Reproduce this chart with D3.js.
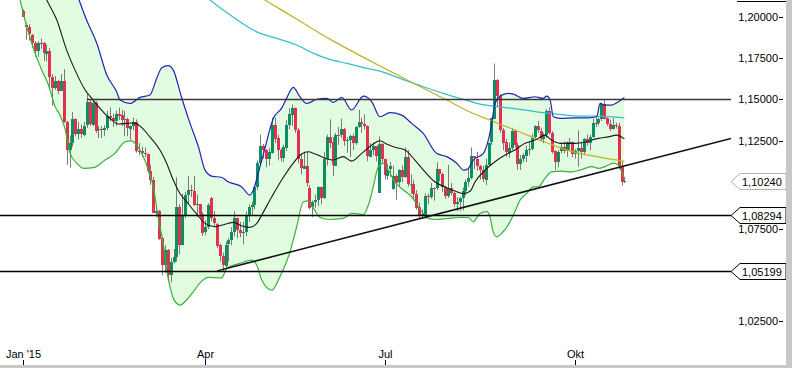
<!DOCTYPE html>
<html><head><meta charset="utf-8">
<script src="https://cdn.jsdelivr.net/npm/d3@7"></script>
<style>html,body{margin:0;padding:0;background:#fff;overflow:hidden}svg{display:block;font-family:"Liberation Sans",Arial,sans-serif}</style>
</head><body>
<svg id="chart" width="792" height="368"></svg>
<script>
// ---------- DATA (EUR/USD daily, Jan 2 – Oct 26 2015, 209 bars) ----------
const open = [
1.2040,1.1950,1.1935,1.1890,1.1840,1.1793,1.1842,1.1837,1.1774,1.1790,1.1630,1.1566,1.1607,1.1549,1.1608,1.1366,1.1202,1.1240,1.1380,1.1290,1.1321,
1.1290,1.1343,1.1480,1.1347,1.1478,1.1315,1.1323,1.1317,1.1331,1.1400,1.1390,1.1370,1.1412,1.1403,1.1375,1.1380,1.1328,1.1343,1.1364,1.1195,
1.1196,1.1184,1.1177,1.1077,1.1028,1.0843,1.0852,1.0698,1.0548,1.0632,1.0494,1.0567,1.0596,1.0873,1.0662,1.0827,1.0940,1.0971,1.0965,1.0887,1.0889,1.0835,
1.0731,1.0760,1.0925,1.0810,1.0780,1.0660,1.0600,1.0548,1.0664,1.0688,1.0734,1.0810,1.0743,1.0725,1.0733,1.0823,1.0873,1.0883,1.0985,1.1124,
1.1224,1.1198,1.1146,1.1186,1.1349,1.1269,1.1199,1.1154,1.1215,1.1347,1.1409,1.1448,1.1318,1.1147,1.1094,1.1109,1.0984,1.0873,1.0900,1.0911,
1.0987,1.0924,1.1150,1.1277,1.1244,1.1112,1.1290,1.1285,1.1322,1.1253,1.1261,1.1283,1.1243,1.1336,1.1364,1.1350,1.1339,1.1162,1.1200,1.1222,1.0955,1.1235,
1.1146,1.1055,1.1087,1.0980,1.1053,1.1015,1.1083,1.1042,1.1159,1.1005,1.1005,1.0950,1.0873,1.0827,1.0832,1.0937,1.0931,1.0983,1.0981,1.1088,1.1059,1.0985,1.0935,
1.0981,1.0955,1.0890,1.0903,1.0925,1.0966,1.1015,1.1039,1.1163,1.1149,1.1106,1.1082,1.1028,1.1115,1.1242,1.1385,1.1617,1.1521,1.1319,1.1245,1.1185,
1.1213,1.1313,1.1231,1.1120,1.1148,1.1169,1.1202,1.1208,1.1273,1.1339,1.1314,1.1265,1.1289,1.1432,1.1301,1.1193,1.1130,1.1190,1.1216,1.1195,1.1245,1.1245,
1.1176,1.1193,1.1213,1.1191,1.1266,1.1240,1.1277,1.1358,1.1357,1.1381,1.1472,1.1385,1.1350,1.1322,1.1346,1.1342,1.1108,1.1016];
const high = [
1.2048,1.1965,1.1955,1.1895,1.1850,1.1850,1.1868,1.1845,1.1830,1.1810,1.1650,1.1640,1.1615,1.1650,1.1680,1.1370,1.1285,1.1423,1.1386,1.1365,1.1350,
1.1365,1.1534,1.1495,1.1490,1.1488,1.1340,1.1340,1.1345,1.1430,1.1450,1.1415,1.1430,1.1450,1.1435,1.1430,1.1390,1.1345,1.1390,1.1380,1.1240,
1.1220,1.1215,1.1180,1.1115,1.1045,1.0880,1.0858,1.0705,1.0660,1.0640,1.0590,1.0640,1.1043,1.0890,1.0950,1.0960,1.1050,1.1000,1.1051,1.0945,1.0890,1.0845,
1.0800,1.0895,1.0930,1.0850,1.0785,1.0670,1.0620,1.0680,1.0700,1.0760,1.0850,1.0815,1.0790,1.0790,1.0850,1.0890,1.0905,1.0995,1.1140,1.1290,
1.1235,1.1205,1.1210,1.1390,1.1390,1.1290,1.1210,1.1230,1.1375,1.1445,1.1467,1.1450,1.1330,1.1175,1.1190,1.1190,1.1000,1.0910,1.0945,1.0990,
1.0990,1.1190,1.1290,1.1380,1.1275,1.1300,1.1335,1.1385,1.1330,1.1275,1.1290,1.1295,1.1340,1.1436,1.1390,1.1410,1.1345,1.1240,1.1245,1.1225,1.1280,1.1240,
1.1150,1.1120,1.1130,1.1110,1.1060,1.1090,1.1110,1.1215,1.1200,1.1060,1.1030,1.0970,1.0900,1.0860,1.0950,1.0950,1.1010,1.0985,1.1130,1.1090,1.1070,1.0995,1.1115,
1.1010,1.0960,1.0930,1.0930,1.0985,1.1030,1.1090,1.1215,1.1165,1.1190,1.1115,1.1110,1.1150,1.1245,1.1390,1.1714,1.1620,1.1530,1.1330,1.1265,1.1245,
1.1330,1.1320,1.1245,1.1170,1.1180,1.1225,1.1250,1.1295,1.1345,1.1370,1.1330,1.1300,1.1440,1.1450,1.1310,1.1200,1.1200,1.1245,1.1250,1.1250,1.1270,1.1250,
1.1205,1.1315,1.1250,1.1270,1.1290,1.1290,1.1385,1.1390,1.1390,1.1475,1.1495,1.1390,1.1380,1.1390,1.1360,1.1360,1.1130,1.1040];
const low = [
1.2000,1.1860,1.1855,1.1810,1.1755,1.1755,1.1805,1.1730,1.1727,1.1567,1.1460,1.1555,1.1530,1.1550,1.1360,1.1115,1.1098,1.1220,1.1280,1.1262,1.1270,
1.1280,1.1330,1.1340,1.1340,1.1300,1.1270,1.1270,1.1280,1.1315,1.1370,1.1335,1.1340,1.1375,1.1340,1.1280,1.1280,1.1260,1.1315,1.1185,1.1170,
1.1160,1.1160,1.1065,1.1000,1.0840,1.0820,1.0690,1.0495,1.0510,1.0463,1.0457,1.0560,1.0570,1.0610,1.0660,1.0810,1.0890,1.0930,1.0880,1.0820,1.0810,1.0712,
1.0715,1.0750,1.0795,1.0760,1.0645,1.0570,1.0520,1.0530,1.0570,1.0660,1.0710,1.0700,1.0705,1.0665,1.0710,1.0790,1.0830,1.0860,1.0970,1.1120,
1.1150,1.1100,1.1110,1.1180,1.1240,1.1140,1.1135,1.1130,1.1195,1.1320,1.1340,1.1300,1.1125,1.1060,1.1090,1.0990,1.0860,1.0818,1.0870,1.0880,
1.0890,1.0920,1.1110,1.1210,1.1050,1.1110,1.1230,1.1270,1.1225,1.1185,1.1160,1.1200,1.1230,1.1330,1.1300,1.1320,1.1135,1.1160,1.1170,1.1135,1.0955,1.1130,
1.1030,1.1030,1.1045,1.0970,1.0915,1.0990,1.1015,1.1040,1.0990,1.0950,1.0915,1.0860,1.0810,1.0810,1.0808,1.0890,1.0920,1.0910,1.0970,1.1020,1.0960,1.0920,1.0925,
1.0940,1.0875,1.0850,1.0850,1.0855,1.0940,1.0990,1.1030,1.1090,1.1080,1.1030,1.1015,1.0998,1.1110,1.1230,1.1380,1.1460,1.1300,1.1200,1.1160,1.1155,
1.1200,1.1215,1.1085,1.1085,1.1130,1.1130,1.1170,1.1200,1.1260,1.1300,1.1250,1.1240,1.1270,1.1290,1.1180,1.1085,1.1100,1.1180,1.1180,1.1160,1.1200,1.1160,
1.1150,1.1105,1.1150,1.1170,1.1225,1.1200,1.1270,1.1335,1.1345,1.1370,1.1380,1.1340,1.1310,1.1320,1.1325,1.1090,1.0995,1.1010];
const close = [
1.2002,1.1935,1.1890,1.1840,1.1793,1.1842,1.1837,1.1774,1.1790,1.1630,1.1566,1.1607,1.1549,1.1608,1.1366,1.1202,1.1240,1.1380,1.1290,1.1321,1.1290,
1.1343,1.1480,1.1347,1.1478,1.1315,1.1323,1.1317,1.1331,1.1400,1.1390,1.1370,1.1412,1.1403,1.1375,1.1380,1.1328,1.1343,1.1364,1.1195,1.1196,
1.1184,1.1177,1.1077,1.1028,1.0843,1.0852,1.0698,1.0548,1.0632,1.0494,1.0567,1.0596,1.0873,1.0662,1.0827,1.0940,1.0971,1.0965,1.0887,1.0889,1.0835,1.0731,
1.0760,1.0885,1.0810,1.0780,1.0660,1.0600,1.0548,1.0664,1.0688,1.0734,1.0810,1.0743,1.0725,1.0733,1.0823,1.0873,1.0883,1.0985,1.1124,1.1224,
1.1198,1.1146,1.1186,1.1349,1.1269,1.1199,1.1154,1.1215,1.1347,1.1409,1.1448,1.1318,1.1147,1.1094,1.1109,1.1013,1.0873,1.0900,1.0911,1.0987,
1.0924,1.1150,1.1277,1.1244,1.1112,1.1290,1.1285,1.1322,1.1253,1.1261,1.1283,1.1243,1.1336,1.1364,1.1350,1.1339,1.1162,1.1200,1.1222,1.1165,1.1235,1.1146,
1.1055,1.1087,1.1107,1.1053,1.1015,1.1083,1.1042,1.1159,1.1005,1.1005,1.0950,1.0873,1.0827,1.0832,1.0937,1.0931,1.0983,1.0981,1.1088,1.1059,1.0985,1.0935,1.0981,
1.0955,1.0890,1.0903,1.0925,1.0966,1.1015,1.1039,1.1163,1.1149,1.1106,1.1082,1.1028,1.1115,1.1242,1.1385,1.1617,1.1521,1.1319,1.1245,1.1185,1.1213,
1.1313,1.1231,1.1120,1.1148,1.1169,1.1202,1.1208,1.1273,1.1339,1.1314,1.1265,1.1289,1.1432,1.1301,1.1193,1.1130,1.1190,1.1216,1.1195,1.1245,1.1245,1.1176,
1.1193,1.1213,1.1191,1.1266,1.1240,1.1277,1.1358,1.1357,1.1381,1.1472,1.1385,1.1350,1.1322,1.1346,1.1342,1.1108,1.1016,1.1024];

// Bollinger upper band (bar index, price)
const upperIdx = [-8,6,16.2,19.3,21.9,25.4,28.9,32.3,33.5,36.9,40.4,43.8,46.2,47.9,50.2,51.9,54.8,57.7,60.6,62.9,65.2,68.7,70.9,75.6,78.4,79.6,81.3,83.6,86.5,89.4,91.1,93.4,95.7,98.1,101.5,105,107.3,110.2,113.6,117.7,120.6,123.4,126.9,130.9,134.4,138.4,143,146.5,150,152.3,154,155.7,159.2,160.9,162.1,163.2,165,167.8,169.6,173,177.1,179.9,181.1,182.3,183.4,185.7,190.9,195.5,198.4,199.6,201.3,203.6,205.9,208];
const upperVal = [1.3153,1.2750,1.2264,1.2106,1.1981,1.1839,1.1644,1.1544,1.1494,1.1474,1.1510,1.1524,1.1626,1.1689,1.1701,1.1674,1.1508,1.1356,1.1219,1.1084,1.1050,1.1042,1.1017,1.0988,1.0941,1.0970,1.1066,1.1210,1.1385,1.1446,1.1504,1.1570,1.1514,1.1474,1.1498,1.1504,1.1480,1.1510,1.1435,1.1518,1.1484,1.1395,1.1419,1.1405,1.1356,1.1297,1.1181,1.1162,1.1124,1.1084,1.1094,1.1142,1.1181,1.1258,1.1356,1.1474,1.1518,1.1534,1.1530,1.1504,1.1514,1.1504,1.1518,1.1494,1.1395,1.1386,1.1389,1.1389,1.1395,1.1474,1.1464,1.1464,1.1484,1.1510];
// Bollinger lower band
const lowerIdx = [-8,-4,-1.1,1.2,4.1,6.9,8.7,11,12.7,14.4,16.2,18.5,20.8,24.2,28.3,31.7,35.2,37.5,39.2,41.5,43.3,45,46.7,48.4,49.6,50.8,51.9,54.2,56.5,58.8,61.1,64,68.7,70.4,75,79,80.8,82.5,86,88.8,92.3,94.6,96.9,98.6,100.4,102.7,106.1,110.7,113.6,117.7,119.4,121.1,122.8,124.6,126.3,128.6,130.9,134.4,137.9,140.1,142.5,147.1,151.1,154,155.7,158,160.4,161.5,162.6,163.8,165.5,168.4,170.1,171.9,174.2,176.5,178.2,180.5,182.8,186.3,189.8,192.6,196.7,199,201.3,204.2,205.9,207.1,208];
const lowerVal = [1.2685,1.2360,1.2106,1.1939,1.1776,1.1654,1.1584,1.1455,1.1405,1.1327,1.1181,1.1124,1.1094,1.1098,1.1142,1.1181,1.1248,1.1254,1.1229,1.1162,1.1084,1.0988,1.0810,1.0672,1.0524,1.0433,1.0371,1.0335,1.0362,1.0406,1.0453,1.0484,1.0482,1.0533,1.0561,1.0579,1.0551,1.0470,1.0415,1.0488,1.0624,1.0763,1.0904,1.0909,1.0866,1.0815,1.0804,1.0810,1.0838,1.0832,1.0885,1.0988,1.1102,1.1124,1.1084,1.1016,1.0979,1.0932,1.0848,1.0810,1.0804,1.0810,1.0815,1.0815,1.0790,1.0838,1.0848,1.0819,1.0735,1.0707,1.0726,1.0790,1.0848,1.0913,1.0951,1.0988,1.0988,1.1037,1.1074,1.1078,1.1074,1.1084,1.1104,1.1094,1.1104,1.1124,1.1113,1.1074,1.1039];
// Bollinger middle (20-day average)
const midIdx = [-8,0.6,8.1,11.6,15,17.9,21.4,24.2,26.5,30,32.9,35.8,38.1,40.4,43.8,47.3,49.6,51.9,54.2,56.5,60,62.9,66.3,69.8,72.7,75.6,78.4,80.8,82.5,86,89.4,92.9,96.3,98.6,100.9,103.8,107.3,110.7,113.6,117.1,120.6,123.4,125.7,128.6,132.1,135.5,139,142.5,145.9,149.4,152.3,154.6,156.3,159.8,163.2,166.7,170.1,173.6,177.1,180.5,182.8,185.7,190.9,194.4,196.7,199,202.4,205.3,208];
const midVal = [1.2685,1.2392,1.2106,1.1981,1.1796,1.1674,1.1554,1.1494,1.1445,1.1385,1.1352,1.1356,1.1359,1.1340,1.1277,1.1200,1.1124,1.1027,1.0951,1.0904,1.0834,1.0782,1.0763,1.0777,1.0788,1.0768,1.0760,1.0782,1.0829,1.0932,1.1027,1.1113,1.1177,1.1190,1.1178,1.1157,1.1142,1.1162,1.1136,1.1181,1.1229,1.1254,1.1235,1.1216,1.1200,1.1142,1.1074,1.1016,1.0988,1.0965,1.0950,1.0963,1.1016,1.1084,1.1132,1.1171,1.1200,1.1239,1.1258,1.1287,1.1258,1.1239,1.1239,1.1245,1.1258,1.1268,1.1277,1.1287,1.1265];
// 100-day average (cyan)
const ma100Idx = [57.6,64.6,69.2,75,80.8,87.7,94.6,100.4,106.1,111.9,118.8,123.4,130.4,138.4,145.3,152.3,158,165,171.9,178.8,185.7,192.6,199,208];
const ma100Val = [1.2200,1.2106,1.2043,1.1970,1.1908,1.1868,1.1827,1.1776,1.1739,1.1715,1.1685,1.1668,1.1624,1.1574,1.1534,1.1498,1.1470,1.1454,1.1439,1.1421,1.1409,1.1399,1.1399,1.1389];
// 200-day average (olive)
const ma200Idx = [78.4,83.6,95.7,106.1,118.2,126.9,135.5,145.9,154.6,161.5,168.4,175.3,182.2,189.2,198.9,208];
const ma200Val = [1.2163,1.2106,1.1975,1.1863,1.1747,1.1668,1.1590,1.1500,1.1423,1.1375,1.1329,1.1281,1.1235,1.1194,1.1160,1.1135];

// drawn levels
const resistanceLevel = 1.15, resistanceFromIdx = 22;
const supportLevels = [1.08294, 1.05199];
const trendIdx = [67.1, 244.9], trendVal = [1.05199, 1.1268];
const lastPrice = 1.10240;

// axes
const priceTicks = [1.025,1.05,1.075,1.10,1.125,1.15,1.175,1.20];
const labelledTicks = [1.025,1.075,1.125,1.15,1.175,1.20]; // 1,05000 and 1,10000 sit under the price boxes
const monthIdx = [0,63,125,191];
const monthLabels = ["Jan '15","Apr","Jul","Okt"];

// ---------- DRAWING ----------
const svg = d3.select("#chart");
const plotW = 731, plotH = 364;
const x = d3.scaleLinear().domain([0,208]).range([23.3,624.4]);
const y = d3.scaleLog().domain([1.025,1.2]).range([321,17]);
const fmt = v => d3.format(".5f")(v).replace(".", ",");
const curve = d3.curveMonotoneX;

svg.append("rect").attr("width",792).attr("height",368).attr("fill","#fff");
const defs = svg.append("defs");
defs.append("clipPath").attr("id","plotClip").append("rect")
  .attr("x",0).attr("y",0).attr("width",plotW).attr("height",plotH);

const upper = d3.zip(upperIdx, upperVal), lower = d3.zip(lowerIdx, lowerVal);
defs.append("clipPath").attr("id","aboveLower").append("path")
  .attr("d", d3.area().x(d=>x(d[0])).y0(-60).y1(d=>y(d[1])).curve(curve)(lower));

const g = svg.append("g").attr("clip-path","url(#plotClip)");
g.append("g").attr("clip-path","url(#aboveLower)").append("path")
  .attr("d", d3.area().x(d=>x(d[0])).y0(420).y1(d=>y(d[1])).curve(curve)(upper))
  .attr("fill","#e1fce1");

// candles
const bars = d3.range(close.length);
const cx = i => Math.round(x(i));
g.append("g").selectAll("line").data(bars).join("line")
  .attr("x1", i=>cx(i)+0.5).attr("x2", i=>cx(i)+0.5)
  .attr("y1", i=>y(high[i])).attr("y2", i=>y(low[i]))
  .attr("stroke","#7a7a7a").attr("stroke-width",1);
g.append("g").selectAll("rect").data(bars).join("rect")
  .attr("x", i=>cx(i)-1).attr("width",3)
  .attr("y", i=>Math.round(y(Math.max(open[i],close[i]))))
  .attr("height", i=>Math.max(1, Math.round(Math.abs(y(open[i])-y(close[i])))))
  .attr("fill", i=> close[i]>=open[i] ? "#0c8f60" : "#e3304c")
  .attr("shape-rendering","crispEdges");

// indicator lines
const line = d3.line().x(d=>x(d[0])).y(d=>y(d[1])).curve(curve);
const drawLine = (idx, val, color, w) => g.append("path").attr("d", line(d3.zip(idx,val)))
  .attr("fill","none").attr("stroke",color).attr("stroke-width",w);
drawLine(ma100Idx, ma100Val, "#35bfc6", 1.2);
drawLine(ma200Idx, ma200Val, "#c2b225", 1.2);
drawLine(midIdx, midVal, "#1a1a1a", 1.1);
drawLine(upperIdx, upperVal, "#2323b5", 1.2);
drawLine(lowerIdx, lowerVal, "#36b336", 1.2);

// levels
const yr = v => Math.round(y(v)) + 0.5;
g.append("line").attr("x1", x(resistanceFromIdx)).attr("x2", plotW)
  .attr("y1", yr(resistanceLevel)).attr("y2", yr(resistanceLevel))
  .attr("stroke","#383838").attr("stroke-width",1.6);
supportLevels.forEach(v => g.append("line").attr("x1",0).attr("x2",plotW)
  .attr("y1", yr(v)).attr("y2", yr(v)).attr("stroke","#000").attr("stroke-width",1.5));
g.append("line").attr("x1", x(trendIdx[0])).attr("x2", x(trendIdx[1]))
  .attr("y1", y(trendVal[0])).attr("y2", y(trendVal[1]))
  .attr("stroke","#111").attr("stroke-width",1.5);

// right price axis
const ax = svg.append("g").attr("font-size",11).attr("fill","#000");
priceTicks.forEach(v => {
  ax.append("line").attr("x1",779).attr("x2",783).attr("y1",yr(v)).attr("y2",yr(v))
    .attr("stroke","#000").attr("stroke-width",1);
});
labelledTicks.forEach(v => {
  ax.append("text").attr("x",778).attr("y", y(v)+4).attr("text-anchor","end").text(fmt(v));
});

// boxed price labels
function box(v, stroke){
  const yy = yr(v);
  ax.append("path").attr("d", `M731,${yy} L740,${yy-8} L786,${yy-8} L786,${yy+8} L740,${yy+8} Z`)
    .attr("fill","#fff").attr("stroke",stroke).attr("stroke-width",1);
  ax.append("text").attr("x",742).attr("y",yy+4).text(fmt(v));
}
box(lastPrice, "#b4b4b4");
supportLevels.forEach(v => box(v, "#000"));
ax.append("line").attr("x1",737).attr("x2",786).attr("y1",1.5).attr("y2",1.5).attr("stroke","#000");

// bottom time axis
const bx = svg.append("g").attr("font-size",11);
monthIdx.forEach((m,k) => {
  const xx = Math.round(x(m)) + 0.5;
  bx.append("line").attr("x1",xx).attr("x2",xx).attr("y1",360).attr("y2",365).attr("stroke","#000");
  bx.append("text").attr("x",xx).attr("y",358).attr("text-anchor","middle").text(monthLabels[k]);
});

// frame bars
svg.append("rect").attr("x",786).attr("y",0).attr("width",6).attr("height",368).attr("fill","#c8c8c8");
svg.append("rect").attr("x",0).attr("y",365).attr("width",792).attr("height",3).attr("fill","#c8c8c8");
</script>
</body></html>
